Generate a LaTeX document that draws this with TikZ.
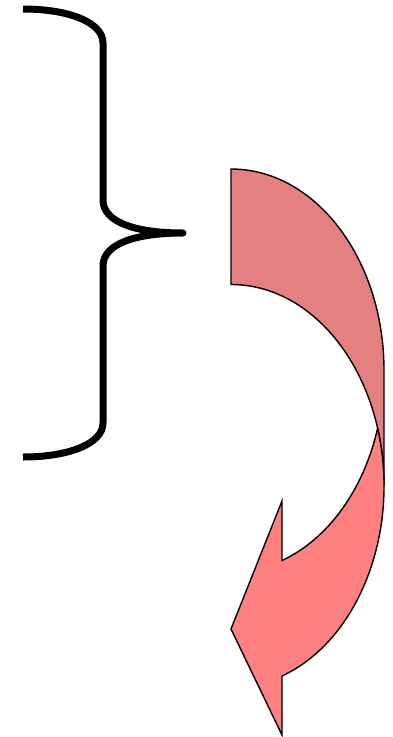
\documentclass[tikz,border=0pt]{standalone}
\definecolor{arrowlight}{RGB}{255,128,128}
\definecolor{arrowdark}{RGB}{228,128,128}
\begin{document}
\begin{tikzpicture}[x=1pt,y=-1pt,
  brace/.style={draw=black, line width=7pt, line join=round, line cap=butt},
  arrowpart/.style={draw=black, line width=1.4pt, line join=miter}]
\useasboundingbox (0,0) rectangle (392,737);
% curly brace
\draw[brace] (23,9) .. controls (68,9) and (103,22) .. (103,43)
  -- (103,200) .. controls (103,222) and (135,233) .. (183,233)
  .. controls (135,233) and (103,244) .. (103,266)
  -- (103,423) .. controls (103,444) and (68,457) .. (23,457);
% curved arrow: back (upper, darker) part
\filldraw[arrowpart, fill=arrowdark] (231,169)
  arc[start angle=-90, end angle=0, x radius=153, y radius=201.5]
  -- (384,486)
  arc[start angle=0, end angle=-90, x radius=153, y radius=201.5]
  -- cycle;
% curved arrow: front (lower) part with head
\filldraw[arrowpart, fill=arrowlight] (377.6,428.25)
  arc[start angle=16.65, end angle=70.53, x radius=153, y radius=201.5]
  -- (282,501) -- (231,629) -- (282,735) -- (282,676)
  arc[start angle=70.53, end angle=-16.65, x radius=153, y radius=201.5]
  -- cycle;
\end{tikzpicture}
\end{document}
